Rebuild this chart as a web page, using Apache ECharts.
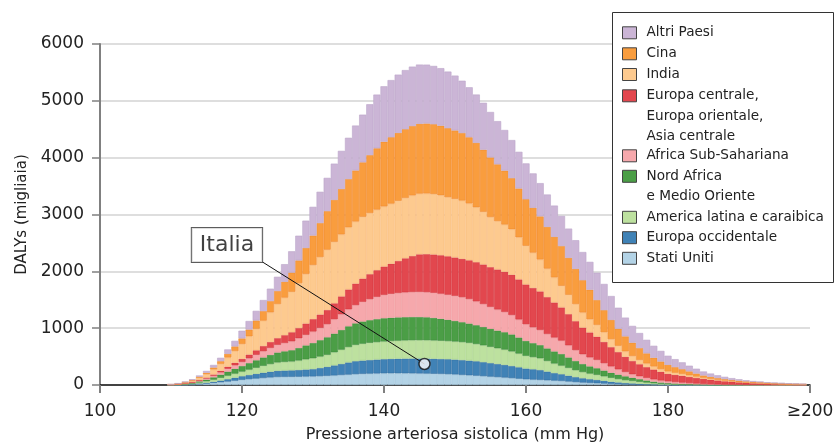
<!DOCTYPE html>
<html><head><meta charset="utf-8">
<script src="https://cdn.jsdelivr.net/npm/echarts@6/dist/echarts.min.js"></script>
<style>html,body{margin:0;padding:0;background:#fff}#c{width:836px;height:443px}</style>
</head><body><div id="c"></div>
<script>
// Systolic blood pressure (mm Hg) categories, one bar each; last bar = ≥200 region
const sbp = [
110,111,112,113,114,115,116,117,118,119,
120,121,122,123,124,125,126,127,128,129,
130,131,132,133,134,135,136,137,138,139,
140,141,142,143,144,145,146,147,148,149,
150,151,152,153,154,155,156,157,158,159,
160,161,162,163,164,165,166,167,168,169,
170,171,172,173,174,175,176,177,178,179,
180,181,182,183,184,185,186,187,188,189,
190,191,192,193,194,195,196,197,198,199];

// DALYs (thousands) per region
const statiUniti = [
1,2,5,9,16,25,35,47,60,75,
90,102,112,122,132,140,142,143,145,148,
150,155,160,167,175,182,190,195,199,202,
205,206,206,205,204,202,200,197,194,190,
185,176,170,163,155,146,138,130,120,110,
100,94,88,82,76,70,60,50,42,35,
30,24,18,14,10,8,6,4,3,2,
2,1,1,1,0,0,0,0,0,0,
0,0,0,0,0,0,0,0,0,0];
const europaOccidentale = [
1,2,4,7,11,15,23,32,43,54,
65,75,85,95,103,110,113,115,120,125,
130,145,160,178,196,215,230,236,241,246,
250,254,257,260,262,264,265,265,264,264,
263,263,260,255,248,240,232,224,215,202,
190,183,176,155,135,120,105,90,77,68,
60,50,40,32,25,20,15,11,8,6,
4,3,2,1,1,1,0,0,0,0,
0,0,0,0,0,0,0,0,0,0];
const americaLatina = [
1,3,6,10,17,25,35,47,60,70,
80,93,106,120,133,146,150,155,165,178,
190,200,210,230,250,270,285,295,302,306,
310,313,316,319,321,322,322,321,320,318,
316,315,310,302,294,285,276,268,255,240,
222,213,205,185,166,150,135,120,108,97,
88,78,68,58,50,42,34,27,20,14,
10,8,6,5,4,3,2,2,1,1,
1,1,0,0,0,0,0,0,0,0];
const nordAfrica = [
1,3,7,12,20,30,42,57,73,87,
100,116,132,148,162,176,188,200,222,246,
270,290,310,330,348,366,380,392,400,406,
410,411,411,411,410,409,405,398,388,376,
364,352,342,333,325,318,312,307,300,284,
264,248,234,222,214,206,185,163,143,128,
117,103,90,79,68,59,48,38,29,22,
17,13,10,8,6,5,4,3,2,2,
2,1,1,1,0,0,0,0,0,0];
const africaSubSahariana = [
1,2,4,8,13,20,28,38,49,60,
70,83,96,109,122,135,145,155,170,185,
200,215,230,252,275,298,320,345,368,390,
410,420,428,434,438,440,441,441,440,440,
440,439,430,418,402,385,370,355,340,316,
293,278,264,253,243,234,212,190,170,157,
146,128,110,92,75,59,50,43,38,34,
30,26,22,18,14,10,8,6,5,4,
3,2,2,2,1,1,1,1,0,0];
const europaCentrale = [
2,3,5,8,12,15,22,30,38,46,
55,67,79,92,105,117,138,160,180,200,
220,235,250,280,315,350,380,410,440,470,
500,530,565,600,635,662,670,675,677,677,
676,675,682,690,697,700,705,708,710,706,
700,692,680,650,618,585,550,510,470,440,
410,375,340,305,268,234,212,192,175,155,
134,128,122,110,100,90,80,70,60,52,
45,38,33,28,23,19,15,12,10,8];
const india = [
2,5,12,22,40,60,88,120,160,205,
260,320,380,445,520,600,660,710,790,870,
950,1010,1060,1080,1090,1092,1090,1085,1075,1065,
1056,1056,1058,1062,1065,1067,1066,1062,1055,1040,
1030,1024,1000,965,925,880,850,830,800,740,
680,620,560,500,440,380,340,300,265,232,
205,170,140,110,95,87,75,62,52,46,
41,36,31,27,22,18,15,12,10,7,
5,4,3,3,2,2,2,1,1,1];
const cina = [
2,5,8,12,18,25,35,48,65,82,
100,120,145,170,200,230,280,340,400,460,
520,600,680,740,800,850,900,960,1020,1080,
1140,1170,1195,1210,1222,1230,1232,1230,1225,1215,
1205,1190,1165,1135,1095,1050,1000,950,900,860,
820,790,760,735,715,700,650,620,570,520,
440,390,340,300,265,236,210,180,155,135,
117,100,85,70,55,41,35,30,26,22,
20,17,15,13,11,10,9,8,7,6];
const altriPaesi = [
2,4,7,12,20,32,45,60,78,98,
135,150,170,194,218,250,310,375,435,480,
505,550,585,638,671,727,790,839,895,945,
975,1005,1025,1040,1045,1042,1036,1025,1012,995,
965,920,880,850,825,800,760,715,670,645,
630,605,585,570,550,530,515,505,495,490,
480,460,420,370,330,295,265,238,210,186,
160,140,120,100,85,70,58,48,40,33,
25,20,16,13,11,10,8,7,6,5];

// Italia marker (mm Hg, DALYs thousands)
const italia = [145.7, 370];

const xTickLabels = ['100','120','140','160','180','\u2265200'];
const yTickLabels = ['0','1000','2000','3000','4000','5000','6000'];

// stacking order bottom -> top
const regions = [
  {name:'Stati Uniti', values: statiUniti, color:'#b3d3e6', border:'#9fc4dc'},
  {name:'Europa occidentale', values: europaOccidentale, color:'#4082b6', border:'#336fa1'},
  {name:'America latina e caraibica', values: americaLatina, color:'#bde19f', border:'#a9d48a'},
  {name:'Nord Africa\ne Medio Oriente', values: nordAfrica, color:'#4b9e46', border:'#3d8c39'},
  {name:'Africa Sub-Sahariana', values: africaSubSahariana, color:'#f6a8ac', border:'#ee959a'},
  {name:'Europa centrale,\nEuropa orientale,\nAsia centrale', values: europaCentrale, color:'#e2474e', border:'#d5323a'},
  {name:'India', values: india, color:'#fdca8f', border:'#f8ba79'},
  {name:'Cina', values: cina, color:'#f99d3e', border:'#f0882a'},
  {name:'Altri Paesi', values: altriPaesi, color:'#cbb5d6', border:'#bca6ca'}
];

// axis categories span 100..200 (one per mm Hg)
const axisCats = [];
for (let v = 100; v <= 200; v++) axisCats.push(String(v));

const FONT = '"DejaVu Sans", "Noto Sans", sans-serif';
const LH = 20.5;
const legendIconCenters = [32.8, 53.8, 74.5, 95.8, 155.8, 176.3, 217.3, 237.7, 258.3];
const calloutOffset = [-197.5, -119];   // label centre relative to the point (px)
const calloutHalf = [35.5, 17];         // half size of the label box (px)

const chart = echarts.init(document.getElementById('c'), null, {renderer:'canvas'});

const series = regions.map(r => ({
  type:'bar', name:r.name, stack:'tot', barWidth:7.1,
  data: sbp.map((x,i)=>[String(x), r.values[i]]),
  itemStyle:{color:r.color, borderColor:r.border, borderWidth:0.6},
  emphasis:{disabled:true}, animation:false
}));
series.push({
  type:'scatter', name:'Italia', xAxisIndex:1, data:[italia], symbol:'circle', symbolSize:11, z:6,
  itemStyle:{color:'#fff', borderColor:'#111', borderWidth:1.5},
  label:{show:true, formatter:'Italia', position:'inside', offset:calloutOffset,
    fontFamily:FONT, fontSize:22, lineHeight:26, color:'#111', backgroundColor:'#fff',
    borderColor:'#333', borderWidth:1, padding:[4,8]},
  emphasis:{disabled:true}, animation:false
});

const legendOrder = regions.slice().reverse();
const legends = legendOrder.map((r,i) => {
  const n = r.name.split('\n').length;
  const block = 2*n - 1;
  return {
    data:[r.name], orient:'vertical', left:622, top: legendIconCenters[i] - block*LH/2,
    padding:0, itemWidth:14, itemHeight:12, itemGap:0, icon:'rect', selectedMode:false,
    itemStyle:{borderColor:'#444', borderWidth:1},
    textStyle:{fontFamily:FONT, fontSize:13.6, lineHeight:LH, color:'#222', padding:[0,0,0,5]},
    formatter: name => '\n'.repeat(name.split('\n').length - 1) + name
  };
});

chart.setOption({
  animation:false,
  textStyle:{fontFamily:FONT},
  grid:{left:100, right:26, top:44, bottom:58, containLabel:false, outerBoundsMode:'none'},
  xAxis:[{type:'category', data:axisCats, boundaryGap:false,
    name:'Pressione arteriosa sistolica (mm Hg)', nameLocation:'middle', nameGap:42,
    nameTextStyle:{fontFamily:FONT, fontSize:16, color:'#222'},
    axisLine:{show:true, lineStyle:{color:'#111', width:1.5}},
    axisTick:{show:true, length:8, interval:19, lineStyle:{color:'#808080', width:2}},
    axisLabel:{fontFamily:FONT, fontSize:17, color:'#222', margin:18, interval:19,
      formatter: v => xTickLabels[Math.round((Number(v)-100)/20)]},
    splitLine:{show:false}},
   {type:'value', min:100, max:200, show:false}],
  yAxis:{type:'value', min:0, max:6000, interval:1000,
    name:'DALYs (migliaia)', nameLocation:'middle', nameGap:63, nameRotate:90,
    nameTextStyle:{fontFamily:FONT, fontSize:15, color:'#222'},
    axisLine:{show:true, lineStyle:{color:'#808080', width:2}},
    axisTick:{show:true, length:8, lineStyle:{color:'#808080', width:1.5}},
    axisLabel:{fontFamily:FONT, fontSize:17, color:'#222', margin:16,
      formatter: v => yTickLabels[Math.round(v/1000)]},
    splitLine:{show:true, lineStyle:{color:'#dedede', width:2}}},
  legend: legends,
  graphic:{elements:[{id:'legendBox', type:'rect', z:3, shape:{x:612.5, y:12.5, width:221, height:270},
    style:{fill:'#fff', stroke:'#333', lineWidth:1}}]},
  series: series
});

// leader line from the label box corner to the Italia point (position from the axes)
const p = chart.convertToPixel({xAxisIndex:1, yAxisIndex:0}, italia);
chart.setOption({graphic:{elements:[{id:'italiaLine', type:'line', z:5,
  shape:{x1:p[0]+calloutOffset[0]+calloutHalf[0], y1:p[1]+calloutOffset[1]+calloutHalf[1], x2:p[0], y2:p[1]},
  style:{stroke:'#111', lineWidth:1}}]}});
</script></body></html>
